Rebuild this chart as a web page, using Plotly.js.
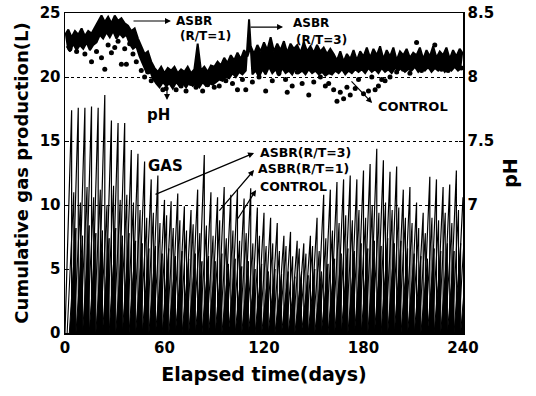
<!DOCTYPE html>
<html>
<head>
<meta charset="utf-8">
<script src="https://cdn.plot.ly/plotly-3.0.1.min.js"></script>
<style>html,body{margin:0;padding:0;background:#fff;}#chart{width:536px;height:396px;}</style>
</head>
<body>
<div id="chart"></div>
<script>
// ---- Gas production: peak cumulative volume (L) reached in each 4-day cycle ----
const gasCycleDays = 4;
const gasPeaksRT3 = [17.4,17.6,17.6,17.7,17.6,18.6,16.6,16.4,16.4,14.3,14.0,13.4,12.0,12.3,10.4,10.3,10.9,9.9,9.6,11.2,
  13.9,11.0,10.6,11.4,10.8,11.2,10.5,11.3,9.8,9.4,9.0,8.6,7.6,7.9,7.2,7.0,7.6,9.0,10.8,11.2,
  11.8,12.0,12.3,12.0,12.7,13.2,14.4,13.5,12.6,13.0,11.2,11.4,10.2,9.4,12.2,12.0,11.4,11.6,12.7,10.6];
const gasPeaksRT1 = [11.0,10.2,11.4,10.6,11.2,10.0,11.5,10.4,10.8,10.2,9.6,9.0,9.4,8.6,9.2,8.2,8.8,8.0,8.5,7.8,
  8.4,7.6,8.8,7.4,8.0,7.2,7.8,7.0,7.6,6.8,7.0,6.4,6.8,6.0,6.6,6.2,6.8,6.4,7.4,8.0,
  8.6,9.2,8.8,9.6,9.0,10.0,9.4,10.2,9.6,9.8,9.0,8.6,8.2,7.8,9.0,8.8,9.4,8.6,9.6,8.8];
const gasPeaksControl = [8.2,7.6,8.4,7.8,8.0,7.4,8.2,7.6,7.8,7.2,7.0,6.6,6.8,6.2,6.6,6.0,6.4,5.8,6.2,5.6,
  6.0,5.6,6.2,5.4,5.8,5.2,5.6,5.0,5.4,4.8,5.0,4.6,4.8,4.4,4.8,4.5,5.0,4.8,5.4,5.8,
  6.2,6.6,6.4,7.0,6.6,7.2,6.8,7.4,7.0,7.2,6.6,6.2,6.0,5.8,6.6,6.4,7.0,6.4,7.0,6.6];
const gasStartRT3 = 0, gasStartRT1 = 1.3, gasStartControl = 2.6;

// ---- pH of the ASBRs (R/T=1 sampled on even days, R/T=3 on odd days) ----
const phRT1 = [8.33,8.37,8.31,8.36,8.33,8.38,8.32,8.36,8.34,8.39,
  8.44,8.48,8.43,8.47,8.42,8.48,8.44,8.46,8.42,
  8.40,8.36,8.38,8.30,
  8.24,8.18,8.20,8.12,
  8.07,8.04,8.08,8.03,8.07,8.05,8.08,8.03,8.06,8.04,8.08,8.03,8.06,8.26,8.05,8.08,8.04,8.09,
  8.08,8.12,8.09,8.15,8.11,8.17,8.13,8.19,8.14,8.21,8.16,
  8.24,8.18,8.25,8.20,8.27,8.21,8.31,8.20,8.26,8.21,8.28,8.19,8.26,8.22,8.25,8.19,8.27,8.20,8.24,8.19,8.25,8.20,8.23,8.18,8.22,
  8.18,8.13,8.20,8.12,8.18,8.14,8.21,8.13,8.20,8.16,8.23,8.15,8.22,8.17,8.24,8.14,8.21,8.16,8.23,8.13,
  8.20,8.17,8.22,8.15,8.19,8.17,8.23,8.14,8.21,8.16,8.24,8.15,8.20,8.17,8.23,8.14,8.21,8.16,8.22,8.18];
const phRT3 = [8.24,8.20,8.26,8.21,8.25,8.22,8.27,8.21,8.25,8.27,
  8.33,8.30,8.35,8.31,8.36,8.30,8.34,8.31,8.33,
  8.26,8.22,8.24,8.16,
  8.10,8.04,8.06,7.99,
  7.95,7.92,7.96,7.93,7.95,7.91,7.96,7.93,7.95,7.92,7.96,7.93,7.95,7.92,7.96,7.93,7.95,7.94,
  7.96,7.98,7.97,8.00,7.99,8.03,8.00,8.04,8.02,8.05,
  8.45,8.02,8.05,8.00,8.06,8.02,8.08,8.03,8.06,8.01,8.07,8.03,8.05,8.02,8.07,8.03,8.05,8.02,8.06,8.03,8.05,8.02,8.04,8.01,8.03,
  8.02,8.05,8.03,8.06,8.02,8.05,8.03,8.06,8.04,8.06,8.03,8.07,8.04,8.06,8.03,8.07,8.04,8.06,8.03,8.07,
  8.05,8.07,8.04,8.06,8.05,8.08,8.04,8.07,8.05,8.08,8.04,8.07,8.05,8.08,8.04,8.07,8.05,8.08,8.05,8.07];

// ---- pH of the control reactor (dots) ----
const controlDays = [3,7,12,16,19,22,24,26,28,30,32,34,36,37,39,41,43,46,48,50,52,55,57,59,61,
  64,67,70,73,76,79,83,86,90,93,97,101,104,107,109,
  113,117,121,125,129,133,134,137,140,143,147,150,154,157,159,
  162,164,166,168,170,172,175,177,180,183,185,187,189,191,193,196,
  200,204,208,212,215,219,223,227,231,235,239];
const controlPH = [8.22,8.20,8.18,8.12,8.20,8.15,8.06,8.25,8.19,8.23,8.28,8.10,8.22,8.10,8.26,8.18,8.12,8.05,8.00,8.04,7.97,7.99,7.95,7.90,7.91,
  7.96,7.90,7.93,7.89,7.95,7.92,7.89,7.94,7.92,7.93,7.97,7.95,7.90,7.98,7.90,
  7.96,8.00,7.89,7.97,8.03,7.98,7.88,7.93,8.04,7.95,7.86,7.96,8.00,7.93,7.95,
  7.90,7.81,7.88,7.83,7.92,7.86,7.91,7.98,7.87,7.89,8.00,7.90,7.93,7.98,7.97,8.00,
  8.04,8.06,8.03,8.27,8.05,8.08,8.25,8.06,8.05,8.09,8.07];

// ---- axis ticks ----
const xTicks = [0,60,120,180,240];
const gasTicks = [0,5,10,15,20,25];
const phTicks = [7,7.5,8,8.5];

function sawtooth(peaks, start, period){
  const x=[], y=[];
  peaks.forEach((p,i)=>{
    x.push(start+i*period); y.push(0);
    x.push(start+(i+1)*period); y.push(p);
  });
  return {x,y};
}
const daysRT1 = phRT1.map((_,i)=>2*i);
const daysRT3 = phRT3.map((_,i)=>2*i+1);

const sC = sawtooth(gasPeaksControl, gasStartControl, gasCycleDays);
const sB = sawtooth(gasPeaksRT1, gasStartRT1, gasCycleDays);
const sA = sawtooth(gasPeaksRT3, gasStartRT3, gasCycleDays);

const F = 'DejaVu Sans, Arial, sans-serif';
const traces = [
  {x:sC.x, y:sC.y, type:'scatter', mode:'lines', line:{color:'#000', width:1}, fill:'tozeroy', fillcolor:'#000', yaxis:'y', hoverinfo:'skip'},
  {x:sB.x, y:sB.y, type:'scatter', mode:'lines', line:{color:'#000', width:1.1}, yaxis:'y', hoverinfo:'skip'},
  {x:sA.x, y:sA.y, type:'scatter', mode:'lines', line:{color:'#000', width:1.2}, yaxis:'y', hoverinfo:'skip'},
  {x:daysRT1, y:phRT1, type:'scatter', mode:'lines', line:{color:'#000', width:2}, yaxis:'y2'},
  {x:daysRT3, y:phRT3, type:'scatter', mode:'lines', line:{color:'#000', width:2}, fill:'tonexty', fillcolor:'#000', yaxis:'y2'},
  {x:controlDays, y:controlPH, type:'scatter', mode:'markers', marker:{color:'#000', size:5}, yaxis:'y2'}
];

function lab(text, x, y, size){
  return {text:text, x:x, y:y, xref:'x', yref:'y', showarrow:false, font:{family:F, size:size, color:'#000', weight:'bold'}};
}
function arr(x0,y0,x1,y1){
  return {text:'', x:x1, y:y1, ax:x0, ay:y0, xref:'x', yref:'y', axref:'x', ayref:'y', showarrow:true, arrowhead:2, arrowsize:1, arrowwidth:1.2, arrowcolor:'#000'};
}
const annotations = [
  lab('ASBR', 78, 24.4, 12), lab('(R/T=1)', 84.7, 23.2, 12),
  arr(40.4, 24.375, 63.9, 24.375),
  lab('ASBR', 148.4, 24.2, 12), lab('(R/T=3)', 154.7, 22.9, 12),
  arr(111, 23.9, 131.5, 23.9),
  lab('pH', 56.1, 17.0, 15),
  arr(61.5, 19.5, 61.5, 18.2),
  lab('CONTROL', 209.9, 17.66, 13),
  arr(171.9, 19.77, 185.2, 17.97),
  lab('GAS', 60.6, 13.05, 15),
  lab('ASBR(R/T=3)', 144.8, 14.14, 12.5),
  arr(53.7, 10.78, 114, 14.06),
  lab('ASBR(R/T=1)', 144.1, 12.89, 12.5),
  arr(92.3, 9.45, 114, 12.73),
  lab('CONTROL', 137.5, 11.48, 12.5),
  arr(103.7, 8.83, 115.2, 11.17)
];

const tickFont = {family:F, size:15, color:'#000', weight:'bold'};
const layout = {
  width:536, height:396,
  margin:{l:65, r:73, t:13, b:63},
  paper_bgcolor:'#fff', plot_bgcolor:'#fff',
  showlegend:false,
  xaxis:{range:[0,240], tickvals:xTicks, ticks:'inside', ticklen:4, tickcolor:'#000',
    showline:true, linecolor:'#000', linewidth:1.5, mirror:true, showgrid:false, zeroline:false,
    tickfont:tickFont,
    title:{text:'Elapsed time(days)', font:{family:F, size:19, color:'#000', weight:'bold'}, standoff:12}},
  yaxis:{range:[0,25], tickvals:gasTicks, ticks:'inside', ticklen:4, tickcolor:'#000',
    showline:true, linecolor:'#000', linewidth:1.5, mirror:true, showgrid:false, zeroline:false,
    tickfont:tickFont,
    title:{text:'Cumulative gas production(L)', font:{family:F, size:18, color:'#000', weight:'bold'}, standoff:6}},
  yaxis2:{range:[6,8.5], tickvals:phTicks, overlaying:'y', side:'right', ticks:'inside', ticklen:4, tickcolor:'#000',
    showline:true, linecolor:'#000', linewidth:1.5, showgrid:true, gridcolor:'#000', gridwidth:1, griddash:'dot', zeroline:false,
    tickfont:tickFont,
    title:{text:'pH', font:{family:F, size:19, color:'#000', weight:'bold'}, standoff:10}},
  annotations:annotations
};
Plotly.newPlot('chart', traces, layout, {displayModeBar:false, staticPlot:true});
</script>
</body>
</html>
